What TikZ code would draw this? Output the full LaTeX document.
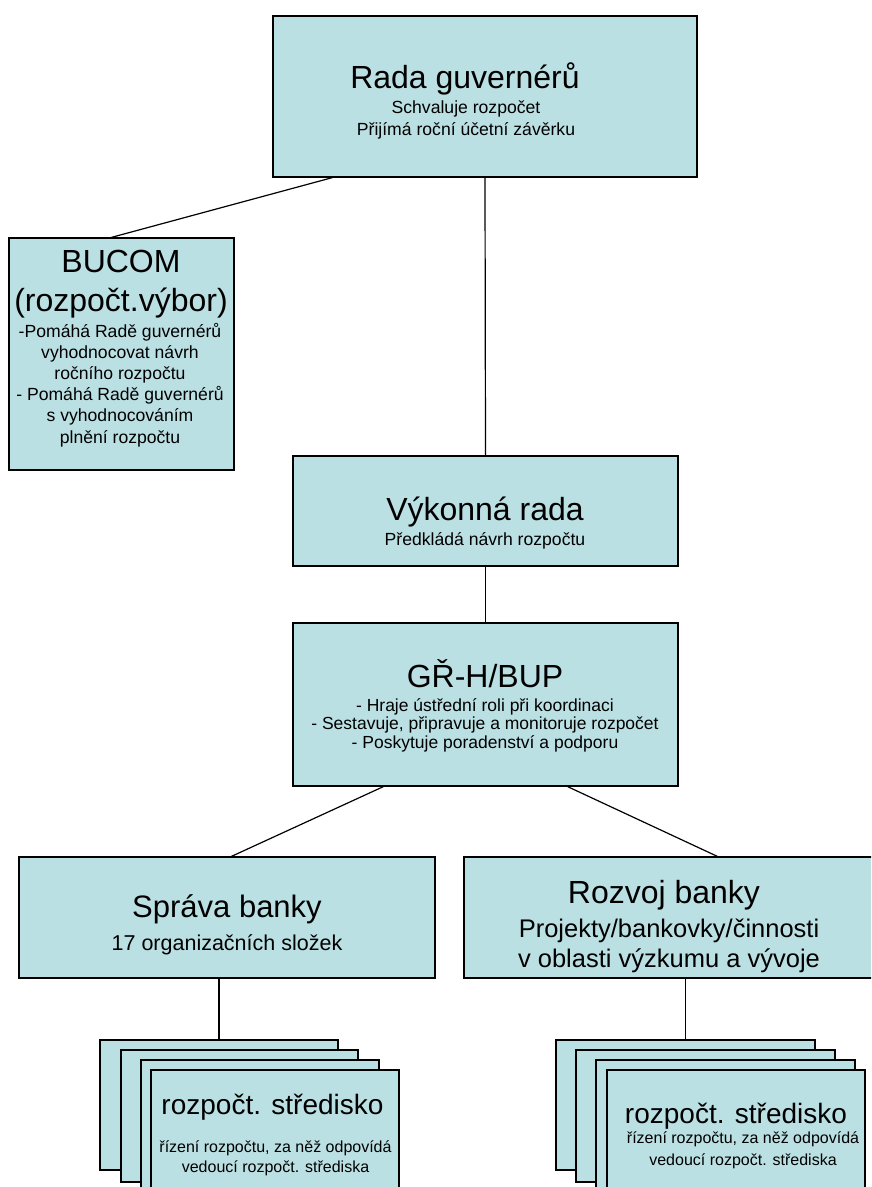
\documentclass[tikz,border=0pt]{standalone}
\usepackage{fontspec}
\setmainfont{Liberation Sans}
\usetikzlibrary{positioning}
\definecolor{boxfill}{RGB}{187,224,227}

\newcommand{\fsize}[2]{\fontsize{#1}{#2}\selectfont}

\tikzset{
    box/.style={rectangle, draw=black, line width=1.2pt, fill=boxfill, inner sep=0pt},
    link/.style={draw=black, line width=1.2pt},
    boxtext/.style={inner sep=0pt, align=center, anchor=base, text=black}
}

\begin{document}
\begin{tikzpicture}[x=1pt, y=-1pt]
    \useasboundingbox (0,0) rectangle (871,1187);
    \clip (0,0) rectangle (871,1187);

    % boxes
    \node (rada) [box, minimum width=424pt, minimum height=161pt] at (485,96.5) {};
    \node (bucom) [box, minimum width=225pt, minimum height=232pt] at (121.5,354) {};
    \node (vykonna) [box, minimum width=385pt, minimum height=110pt] at (485.5,511) {};
    \node (ghbup) [box, minimum width=385pt, minimum height=163pt] at (485.5,704.5) {};
    \node (sprava) [box, minimum width=416pt, minimum height=121pt] at (227,917.5) {};
    \node (rozvoj) [box, minimum width=416pt, minimum height=121pt] at (672,917.5) {};

    % budget centres, stacked
    \foreach \nm/\cx/\cy/\bw/\bh in {
        stackL1/219/1105/238/130, stackL2/239.5/1116/237/132,
        stackL3/260/1126/238/132, stackL4/275/1136/248/132,
        stackR1/685.5/1105/259/130, stackR2/705.5/1116/259/132,
        stackR3/725.5/1126/259/132, stackR4/736/1136/258/132}
    {
        \node (\nm) [box, minimum width=\bw pt, minimum height=\bh pt] at (\cx,\cy) {};
    }

    % texts (base = last line)
    \node (rada_title) [boxtext, font={\fsize{32}{38}}] at (465,88) {Rada guvernérů};
    \node (rada_body) [boxtext, font={\fsize{17.6}{22}}] at (466,135)
    {
        Schvaluje rozpočet\\Přijímá roční účetní závěrku
    };
    \node (bucom_title) [boxtext, font={\fsize{32}{38.5}}] at (121,311)
    {
        BUCOM\\(rozpočt.výbor)
    };
    \node (bucom_body) [boxtext, font={\fsize{17.6}{21.2}}] at (120,443)
    {
        -Pomáhá Radě guvernérů\\vyhodnocovat návrh\\ročního rozpočtu\\
        - Pomáhá Radě guvernérů\\s vyhodnocováním\\plnění rozpočtu
    };
    \node (vykonna_title) [boxtext, font={\fsize{32}{38}}] at (485,520) {Výkonná rada};
    \node (vykonna_body) [boxtext, font={\fsize{17.6}{22}}] at (485,545) {Předkládá návrh rozpočtu};
    \node (ghbup_title) [boxtext, font={\fsize{32}{38}}] at (485,687) {GŘ-H/BUP};
    \node (ghbup_body) [boxtext, font={\fsize{17.5}{18.3}}] at (485,748)
    {
        - Hraje ústřední roli při koordinaci\\
        - Sestavuje, připravuje a monitoruje rozpočet\\
        - Poskytuje poradenství a podporu
    };
    \node (sprava_title) [boxtext, font={\fsize{31}{36}}] at (227,917) {Správa banky};
    \node (sprava_body) [boxtext, font={\fsize{21.5}{26}}] at (227,950) {17 organizačních složek};
    \node (rozvoj_title) [boxtext, font={\fsize{32}{38}}] at (664,903) {Rozvoj banky};
    \node (rozvoj_body) [boxtext, font={\fsize{25.5}{30}}] at (669,967)
    {
        Projekty/bankovky/činnosti\\v oblasti výzkumu a vývoje
    };
    \node (stackL_title) [boxtext, font={\fsize{28}{32}}] at (272.5,1114) {rozpočt. středisko};
    \node (stackL_body) [boxtext, font={\fsize{16}{20}}] at (275.5,1172)
    {
        řízení rozpočtu, za něž odpovídá\\vedoucí rozpočt. střediska
    };
    \node (stackR_title) [boxtext, font={\fsize{28}{32}}] at (736,1123) {rozpočt. středisko};
    \node (stackR_body) [boxtext, font={\fsize{16}{21.5}}] at (743,1165)
    {
        řízení rozpočtu, za něž odpovídá\\vedoucí rozpočt. střediska
    };

    % connectors
    \draw[link] ([xshift=60pt]rada.south west) -- ([xshift=103pt]bucom.north west);
    \draw[link] (rada.south) -- (vykonna.north);
    \draw[link] (vykonna.south) -- (ghbup.north);
    \draw[link] ([xshift=91pt]ghbup.south west) -- ([xshift=213pt]sprava.north west);
    \draw[link] ([xshift=-111pt]ghbup.south east) -- ([xshift=254pt]rozvoj.north west);
    \draw[link] (sprava.south -| stackL1.north) -- (stackL1.north);
    \draw[link] (rozvoj.south -| stackR1.north) -- (stackR1.north);
\end{tikzpicture}
\end{document}
